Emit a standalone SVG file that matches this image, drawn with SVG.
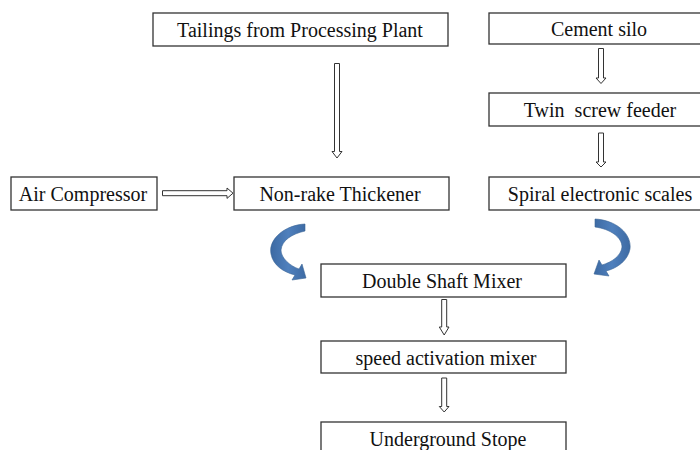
<svg xmlns="http://www.w3.org/2000/svg" width="700" height="450" viewBox="0 0 700 450">
<defs>
<style>
.box{fill:#fff;stroke:#333;stroke-width:1.3}
.t{font-family:"Liberation Serif","Times New Roman",serif;font-size:20px;fill:#111;text-anchor:middle}
.ba{fill:#fff;stroke:#333;stroke-width:1}
.ca{fill:url(#bg);stroke:#3a6496;stroke-width:0.6}
</style>
<linearGradient id="bg" x1="0" y1="0" x2="1" y2="0">
<stop offset="0" stop-color="#3d6aa3"/>
<stop offset="0.5" stop-color="#4f80bd"/>
<stop offset="1" stop-color="#3d6aa3"/>
</linearGradient>
</defs>
<rect width="700" height="450" fill="#fff"/>
<g id="tailings"><rect class="box" x="153" y="13" width="295" height="33"/><text class="t" x="300" y="36.5">Tailings from Processing Plant</text></g>
<g id="cement"><rect class="box" x="489" y="13" width="222" height="31"/><text class="t" x="599" y="35.5">Cement silo</text></g>
<g id="twin"><rect class="box" x="489" y="93" width="222" height="33"/><text class="t" x="600" y="116.5">Twin&#160; screw feeder</text></g>
<g id="spiral"><rect class="box" x="489" y="177" width="222" height="33"/><text class="t" x="600" y="200.5">Spiral electronic scales</text></g>
<g id="air"><rect class="box" x="11" y="177" width="146" height="33"/><text class="t" x="83" y="200.5">Air Compressor</text></g>
<g id="thickener"><rect class="box" x="234" y="177" width="215" height="33"/><text class="t" x="340" y="200.5">Non-rake Thickener</text></g>
<g id="mixer"><rect class="box" x="321" y="264" width="245" height="33"/><text class="t" x="442" y="287.5">Double Shaft Mixer</text></g>
<g id="activation"><rect class="box" x="321" y="341" width="245" height="32"/><text class="t" x="446" y="364.5">speed activation mixer</text></g>
<g id="stope"><rect class="box" x="321" y="422" width="245" height="40"/><text class="t" x="448" y="445.5">Underground Stope</text></g>
<g id="connectors">
<path class="ba" d="M334.5,63.5 H339.5 V151.5 H342 L337,158 L332,151.5 H334.5 Z"/>
<path class="ba" d="M598.5,48.5 H603.5 V78 H606 L601,83.5 L596,78 H598.5 Z"/>
<path class="ba" d="M598.5,133 H603.5 V162 H606 L601,167 L596,162 H598.5 Z"/>
<path class="ba" d="M441.7,299.5 H446.7 V327 H449 L444.2,335 L439.3,327 H441.7 Z"/>
<path class="ba" d="M441.7,378 H446.7 V406.5 H449 L444.2,412 L439.3,406.5 H441.7 Z"/>
<path class="ba" d="M162.5,190.7 H227 V188 L233,193.2 L227,198.4 V195.7 H162.5 Z"/>
<path class="ca" d="M305,224 C285,225 268,239 271,254 C273,265 283,272 295,275 L292,280 L306,278 L302,264 L299,269 C290,266 281,258 281,250 C282,240 292,234 305,231 Z"/>
<path class="ca" d="M595,219 C615,220 632,233 630,249 C628,260 618,268 606,271 L609,276 L594,274 L599,260 L602,265 C612,262 621,256 622,247 C622,237 610,229 595,227 Z"/>
</g>
</svg>
